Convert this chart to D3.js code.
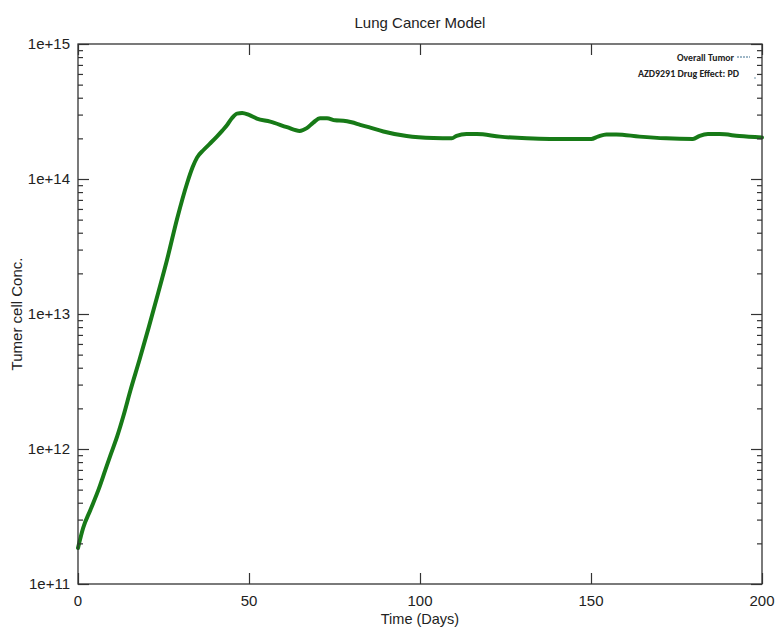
<!DOCTYPE html>
<html>
<head>
<meta charset="utf-8">
<script src="https://cdn.jsdelivr.net/npm/d3@7"></script>
<style>
  html, body { margin: 0; padding: 0; background: #fff; }
  svg { display: block; }
</style>
</head>
<body>
<script>
// Simulated tumour cell concentration over time
const days = [0, 1.5, 3.65, 6, 8, 9.5, 11.5, 13.4, 15.3, 18, 20.7, 23.5, 26, 29, 31.9, 33.5, 34.8, 36.7, 38.5, 40.6, 42.2, 43.6, 45, 46.5, 48, 50, 52.3, 56.2, 61.1, 64.8, 66.9, 68.8, 70.8, 72.8, 75.2, 77.6, 80, 82.5, 85, 89.3, 96.1, 103.9, 109.3, 110.7, 113.6, 116.6, 123.4, 131.2, 138, 150.1, 152, 154.5, 157.4, 164.2, 172, 179.8, 181.8, 184.2, 187.6, 193.4, 200];
const tumorConc = [1.85e11, 2.6e11, 3.55e11, 5.0e11, 7.0e11, 9.0e11, 1.25e12, 1.8e12, 2.7e12, 4.6e12, 8.0e12, 1.45e13, 2.5e13, 5.1e13, 9.3e13, 1.22e14, 1.44e14, 1.64e14, 1.82e14, 2.06e14, 2.28e14, 2.51e14, 2.82e14, 3.05e14, 3.08e14, 2.98e14, 2.8e14, 2.66e14, 2.42e14, 2.27e14, 2.38e14, 2.62e14, 2.82e14, 2.82e14, 2.72e14, 2.7e14, 2.63e14, 2.52e14, 2.42e14, 2.25e14, 2.08e14, 2.01e14, 2.0e14, 2.09e14, 2.15e14, 2.15e14, 2.06e14, 2.0e14, 1.98e14, 1.98e14, 2.06e14, 2.14e14, 2.14e14, 2.06e14, 2.0e14, 1.98e14, 2.09e14, 2.15e14, 2.15e14, 2.08e14, 2.03e14];

const xTicks = [0, 50, 100, 150, 200];
const yTicks = [1e11, 1e12, 1e13, 1e14, 1e15];
const yTickLabels = ["1e+11", "1e+12", "1e+13", "1e+14", "1e+15"];
const legendLabels = ["Overall Tumor", "AZD9291 Drug Effect: PD"];

const W = 776, H = 627;
const plotL = 78, plotR = 762, plotT = 44, plotB = 584;

const svg = d3.select("body").append("svg")
  .attr("width", W).attr("height", H)
  .style("font-family", "'Liberation Sans', Arial, sans-serif");

const x = d3.scaleLinear().domain([0, 200]).range([plotL, plotR]);
const y = d3.scaleLog().domain([1e11, 1e15]).range([plotB, plotT]);

// Minor ticks at 2..9 of each decade
const minor = [];
for (let e = 11; e < 15; e++) for (let m = 2; m <= 9; m++) minor.push(m * Math.pow(10, e));

const axisColor = "#333";
const g = svg.append("g");

// Tumour curve
const line = d3.line().x((d, i) => x(days[i])).y(d => y(d)).curve(d3.curveMonotoneX);
g.append("path")
  .datum(tumorConc)
  .attr("d", line)
  .attr("fill", "none")
  .attr("stroke", "#177a17")
  .attr("stroke-width", 4)
  .attr("stroke-linejoin", "round")
  .attr("stroke-linecap", "round");

// Frame
g.append("rect")
  .attr("x", plotL).attr("y", plotT)
  .attr("width", plotR - plotL).attr("height", plotB - plotT)
  .attr("fill", "none").attr("stroke", axisColor).attr("stroke-width", 1.3);

// Y ticks, inward on both sides
const yMajor = d3.axisLeft(y).tickValues(yTicks).tickSize(-11).tickFormat("");
const yMinor = d3.axisLeft(y).tickValues(minor).tickSize(-5).tickFormat("");
const yMajorR = d3.axisRight(y).tickValues(yTicks).tickSize(-11).tickFormat("");
const yMinorR = d3.axisRight(y).tickValues(minor).tickSize(-5).tickFormat("");
[[yMajor, plotL], [yMinor, plotL], [yMajorR, plotR], [yMinorR, plotR]].forEach(([ax, px]) => {
  const a = g.append("g").attr("transform", `translate(${px},0)`).call(ax);
  a.select(".domain").remove();
  a.selectAll("line").attr("stroke", axisColor).attr("stroke-width", 1.2);
});

// X ticks, inward top and bottom
const xB = d3.axisBottom(x).tickValues(xTicks).tickSize(-11).tickFormat("");
const xT = d3.axisTop(x).tickValues(xTicks).tickSize(-11).tickFormat("");
[[xB, plotB], [xT, plotT]].forEach(([ax, py]) => {
  const a = g.append("g").attr("transform", `translate(0,${py})`).call(ax);
  a.select(".domain").remove();
  a.selectAll("line").attr("stroke", axisColor).attr("stroke-width", 1.2);
});

// Tick labels
svg.append("g").selectAll("text").data(yTicks).join("text")
  .attr("x", 70).attr("y", d => y(d) + 5)
  .attr("text-anchor", "end").attr("font-size", 15).attr("fill", "#222")
  .text((d, i) => yTickLabels[i]);
svg.append("g").selectAll("text").data(xTicks).join("text")
  .attr("x", d => x(d)).attr("y", 606)
  .attr("text-anchor", "middle").attr("font-size", 15).attr("fill", "#222")
  .text(d => d);

// Titles
svg.append("text").attr("x", (plotL + plotR) / 2).attr("y", 28)
  .attr("text-anchor", "middle").attr("font-size", 15).attr("fill", "#222")
  .text("Lung Cancer Model");
svg.append("text").attr("x", (plotL + plotR) / 2).attr("y", 624)
  .attr("text-anchor", "middle").attr("font-size", 14.5).attr("fill", "#222")
  .text("Time (Days)");
svg.append("text")
  .attr("transform", `translate(22,${(plotT + plotB) / 2}) rotate(-90)`)
  .attr("text-anchor", "middle").attr("font-size", 15).attr("fill", "#222")
  .text("Tumer cell Conc.");

// Legend
const leg = svg.append("g").style("font-family", "Carlito, 'Open Sans', sans-serif")
  .attr("font-weight", "bold").attr("font-size", 10).attr("fill", "#222");
leg.append("text").attr("x", 734).attr("y", 61).attr("text-anchor", "end")
  .attr("textLength", 57).attr("lengthAdjust", "spacingAndGlyphs").text(legendLabels[0]);
leg.append("line").attr("x1", 737).attr("x2", 750).attr("y1", 57).attr("y2", 57)
  .attr("stroke", "#3d6f8f").attr("stroke-width", 1).attr("stroke-dasharray", "2,1");
leg.append("text").attr("x", 739).attr("y", 77).attr("text-anchor", "end")
  .attr("textLength", 101).attr("lengthAdjust", "spacingAndGlyphs").text(legendLabels[1]);
leg.append("circle").attr("cx", 755).attr("cy", 78).attr("r", 0.7).attr("fill", "#3d6f8f");
</script>
</body>
</html>
